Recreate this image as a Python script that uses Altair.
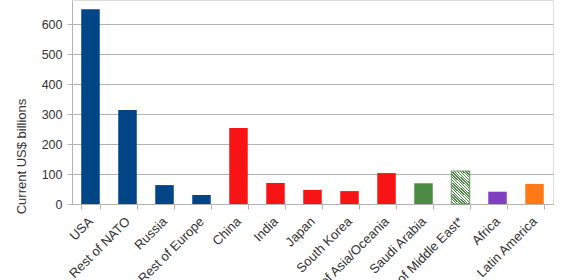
import altair as alt
import pandas as pd

categories = ["USA", "Rest of NATO", "Russia", "Rest of Europe", "China", "India", "Japan",
              "South Korea", "Rest of Asia/Oceania", "Saudi Arabia", "Rest of Middle East*",
              "Africa", "Latin America"]
values = [649, 313, 63, 30, 253, 70, 47, 43, 103, 69, 110, 41, 67]
groups = ["blue", "blue", "blue", "blue", "red", "red", "red", "red", "red", "green", "hatch", "purple", "orange"]

df = pd.DataFrame({"cat": categories, "val": values, "grp": groups})

palette = {"blue": "#004586", "red": "#f81414", "green": "#4b8b44", "purple": "#7f3fbf", "orange": "#ff7a14"}

# hatched fill via sharp-stop gradient
stops = []
n = 24
for i in range(n):
    a = i / n
    b = (i + 0.5) / n
    c = (i + 1) / n
    stops += [{"offset": a, "color": "#4b8b44"}, {"offset": b, "color": "#4b8b44"},
              {"offset": b, "color": "#ffffff"}, {"offset": c, "color": "#ffffff"}]
hatch = {"gradient": "linear", "x1": 0, "y1": 0, "x2": 1, "y2": 1, "stops": stops}

x = alt.X("cat:N", sort=categories, title=None,
          scale=alt.Scale(paddingInner=0.5, paddingOuter=0.25),
          axis=alt.Axis(labelAngle=-45, labelAlign="right", labelBaseline="middle",
                        labelFontSize=13, labelColor="#333333", labelFont="Liberation Sans",
                        labelPadding=10, tickBand="extent", tickColor="#b3b3b3", tickSize=5,
                        domainColor="#b3b3b3", grid=False))
y = alt.Y("val:Q", title="Current US$ billions",
          scale=alt.Scale(domain=[0, 680], nice=False),
          axis=alt.Axis(values=[0, 100, 200, 300, 400, 500, 600], labelFontSize=12.5,
                        labelColor="#333333", labelFont="Liberation Sans", labelPadding=5,
                        tickSize=5, tickColor="#b3b3b3", domainColor="#b3b3b3",
                        gridColor="#b3b3b3", titleFont="Liberation Sans", titleFontSize=13,
                        titleFontWeight="normal", titleColor="#333333", titleAngle=270,
                        titleX=-44, titleY=156, titleAlign="center", titleBaseline="bottom"))

base = alt.Chart(df)
solid = base.transform_filter(alt.datum.grp != "hatch").mark_bar().encode(
    x=x, y=y,
    color=alt.Color("grp:N", scale=alt.Scale(domain=list(palette.keys()), range=list(palette.values())), legend=None))
hatched = base.transform_filter(alt.datum.grp == "hatch").mark_bar(
    fill=hatch, stroke="#4b8b44", strokeWidth=0.8).encode(x=x, y=y)

chart = alt.layer(solid, hatched).properties(
    width=481, height=204,
    autosize=alt.AutoSizeParams(type="none"),
    padding={"left": 72, "top": 0, "right": 11, "bottom": 76},
).configure_view(stroke="#b3b3b3", strokeWidth=1).configure(background="white")

chart.save("out.html", embed_options={"renderer": "svg", "actions": False})
